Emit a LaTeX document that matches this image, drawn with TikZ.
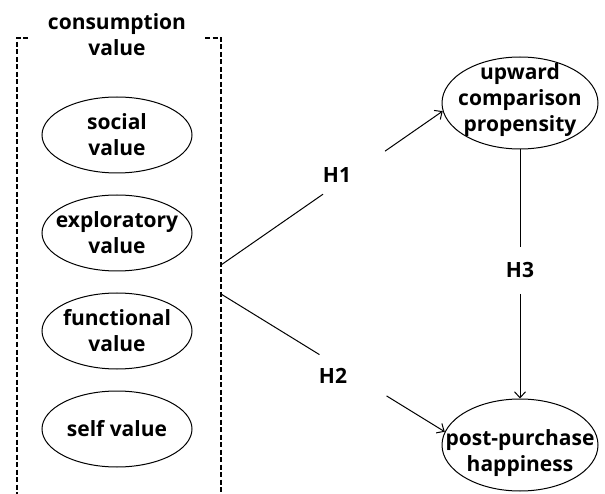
\documentclass[tikz,border=0pt]{standalone}
\usepackage{fontspec}
\setmainfont{Open Sans}
\usetikzlibrary{arrows.meta,shapes.geometric}

\begin{document}
\begin{tikzpicture}[x=1pt, y=-1pt,
	every node/.style={font=\bfseries\fontsize{21}{26}\selectfont, align=center},
	val/.style={draw, ellipse, line width=1pt, inner sep=0, minimum width=150, minimum height=76},
	dep/.style={draw, ellipse, line width=1pt, inner sep=0, minimum width=156, minimum height=92},
	box/.style={line width=1.4pt, dash pattern=on 5pt off 2.5pt},
	link/.style={line width=1pt},
	arr/.style={line width=1pt, -{Straight Barb[length=6pt, width=11pt]}}]
			\useasboundingbox (0,0) rectangle (605,494);

			\node (cv) at (117,35) {consumption\\value};
			\draw[box] (28,38) -- (17,38) -- (17,494);
			\draw[box] (205,38) -- (221,38) -- (221,494);

			\node[val, label=center:{social\\value}] (social) at (117,135) {};
			\node[val, label=center:{exploratory\\value}] (explor) at (117,233) {};
			\node[val, label=center:{functional\\value}] (func) at (117,331) {};
			\node[val, label=center:{self value}] (self) at (117,429) {};

			\node[dep, label={[yshift=3pt]center:{upward\\comparison\\propensity}}] (ucp) at (520,103) {};
			\node[dep, label={[yshift=-8pt]center:{post-purchase\\happiness}}] (pph) at (520,445) {};

			\coordinate (o1) at (221,265);
			\coordinate (o2) at (221,294);

			\path (o1) -- (ucp.186) coordinate[pos=0.46] (h1a) coordinate[pos=0.74] (h1b);
			\path (o2) -- (pph.170) coordinate[pos=0.44] (h2a) coordinate[pos=0.74] (h2b);
			\path (ucp.south) -- (pph.north) coordinate[pos=0.39] (h3a) coordinate[pos=0.58] (h3b);

			\node (h1) at (337,175) {H1};
			\node (h2) at (333,376) {H2};
			\node (h3) at (520,270) {H3};

			\draw[link] (o1) -- (h1a);
			\draw[arr] (h1b) -- (ucp.186);
			\draw[link] (o2) -- (h2a);
			\draw[arr] (h2b) -- (pph.170);
			\draw[link] (ucp.south) -- (h3a);
			\draw[arr] (h3b) -- (pph.north);
		\end{tikzpicture}
\end{document}
